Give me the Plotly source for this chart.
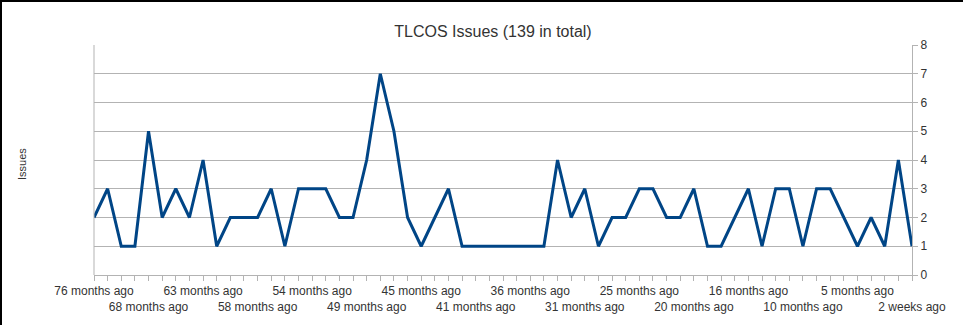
import plotly.graph_objects as go

# Data
values = [2, 3, 1, 1, 5, 2, 3, 2, 4, 1, 2, 2, 2, 3, 1, 3, 3, 3, 2, 2, 4, 7,
          5, 2, 1, 2, 3, 1, 1, 1, 1, 1, 1, 1, 4, 2, 3, 1, 2, 2, 3, 3,
          2, 2, 3, 1, 1, 2, 3, 1, 3, 3, 1, 3, 3, 2, 1, 2, 1, 4, 1]
tick_labels = ["76 months ago", "68 months ago", "63 months ago", "58 months ago",
               "54 months ago", "49 months ago", "45 months ago", "41 months ago",
               "36 months ago", "31 months ago", "25 months ago", "20 months ago",
               "16 months ago", "10 months ago", "5 months ago", "2 weeks ago"]
label_step = 4
title = "TLCOS Issues (139 in total)"

x = list(range(len(values)))
tickvals = list(range(0, len(values), label_step))[:len(tick_labels)]
ticktext = [t if i % 2 == 0 else "<br>" + t for i, t in enumerate(tick_labels)]

W, H = 963, 325
L, R, T, B = 94, 51, 45, 50
pw, ph = W - L - R, H - T - B

fig = go.Figure()
fig.add_trace(go.Scatter(x=x, y=values, mode="lines",
                         line=dict(color="#004586", width=3),
                         hoverinfo="x+y"))

grid = "#b3b3b3"
fig.update_layout(
    width=W, height=H,
    margin=dict(l=L, r=R, t=T, b=B, pad=0, autoexpand=False),
    paper_bgcolor="white", plot_bgcolor="white",
    showlegend=False,
    font=dict(family="Liberation Sans, Arial, sans-serif", size=12, color="#333333"),
    title=dict(text=title, x=493 / W, xanchor="center", y=1 - 31 / H, yanchor="middle",
               font=dict(size=16, color="#333333")),
    xaxis=dict(range=[0, len(values) - 1], tickmode="array", tickvals=tickvals,
               ticktext=ticktext, tickangle=0, automargin=False,
               ticks="outside", ticklen=5, tickcolor=grid,
               showgrid=False, showline=True, linecolor=grid, linewidth=1,
               mirror=False, zeroline=False,
               minor=dict(ticks="outside", dtick=1, tick0=0, ticklen=5, tickcolor=grid,
                          showgrid=False),
               tickfont=dict(size=12, color="#333333")),
    yaxis=dict(range=[0, 8], dtick=1, side="right", ticks="outside", ticklen=5,
               automargin=False,
               tickcolor=grid, showgrid=True, gridcolor=grid, gridwidth=1,
               showline=True, linecolor=grid, linewidth=1, zeroline=False,
               tickfont=dict(size=12, color="#333333")),
)

# left border of plot area
fig.add_shape(type="line", xref="paper", yref="paper", x0=0, x1=0, y0=0, y1=1,
              line=dict(color=grid, width=1))

# y-axis title on the left
fig.add_annotation(text="Issues", xref="paper", yref="paper",
                   x=(22 - L) / pw, y=(H - B - 164) / ph, showarrow=False,
                   textangle=-90, font=dict(size=11, color="#333333"),
                   xanchor="center", yanchor="middle")

# black frame on top and left edges
fig.add_shape(type="line", xref="paper", yref="paper",
              x0=(0 - L) / pw, x1=(W - L) / pw, y0=(H - B - 1) / ph, y1=(H - B - 1) / ph,
              line=dict(color="black", width=2))
fig.add_shape(type="line", xref="paper", yref="paper",
              x0=(1 - L) / pw, x1=(1 - L) / pw, y0=(H - B - 0) / ph, y1=(H - B - H) / ph,
              line=dict(color="black", width=2))

fig.write_html("out.html")
